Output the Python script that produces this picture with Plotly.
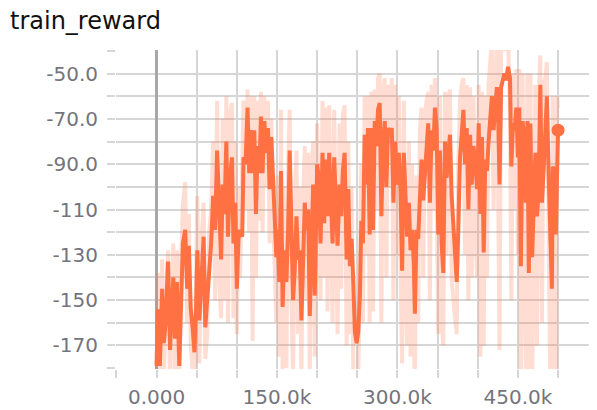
import plotly.graph_objects as go

# steps in thousands
steps_k = [0, 1.6, 4.1, 7, 9, 11.5, 14.3, 16.8, 18.9, 20.9, 23, 25.4, 28.3, 30.3, 32.8, 35.7, 38.1, 40.2, 42.6, 45.1,
           47.2, 49.2, 50.8, 53.3, 55.8, 58.6, 60.7, 63.1, 65.6, 68, 70.5, 73, 75.4, 77.9, 80.4, 82.4, 84.5, 86.9, 89, 91.4,
           93.9, 95.8, 97.9, 100, 102, 104, 106.7, 108.3, 110.8, 113.3, 115.4, 117.5, 119.6, 121.7, 123.8, 125.8, 127.9, 130, 132, 134.2,
           136.7, 138.8, 140.8, 142.9, 145, 147.5, 149.2, 150.8, 152.9, 155, 157, 159.2, 161.7, 163.8, 165.8, 168, 170, 172, 174.2, 176.3,
           178.3, 180.4, 182.5, 184.6, 186.7, 188.8, 190.8, 192.9, 195, 197, 200, 202, 204.2, 206.7, 208.8, 210.8, 212.9, 215, 217, 219.2,
           221.2, 223.3, 225.4, 227.9, 230, 232, 234.2, 236.7, 238.8, 240.8, 242.9, 245, 247, 249.2, 251.2, 253.3, 255, 257, 259.2, 261.2,
           263.3, 265.4, 267.5, 269.6, 271.7, 273.8, 275.8, 277.9, 280, 282, 284.2, 286.2, 288.3, 290.8, 292.9, 295, 297, 299.2, 301.7, 303.8,
           305.8, 307.9, 310, 312.1, 314.2, 316.3, 318.3, 320.4, 321.7, 323.8, 325.8, 327.9, 330, 332.1, 334.2, 336.2, 338.3, 340.4, 342.5, 344.6,
           346.7, 348.8, 350.8, 352.9, 355, 357.1, 359.2, 361.2, 363.3, 365.4, 367.5, 369.6, 371.7, 373.8, 375.8, 377.9, 380, 382.1, 384.2, 386.3,
           388.3, 390.4, 392.5, 394.6, 397.1, 399.2, 401.2, 403.3, 405.3, 407.4, 409.4, 411.5, 413.5, 415.6, 417.6, 419.7, 421.7, 423.8, 425.4, 427.1,
           429.1, 431.2, 433.2, 435.3, 437.7, 440.2, 441.8, 443.9, 445.9, 448, 450, 451.7, 453.7, 455.8, 457.8, 459.9, 461.9, 463.6, 465.6, 467.7,
           469.7, 471.8, 473.8, 475.9, 477.9, 480, 482, 484.1, 486.1, 488.2, 490.2, 492.3, 493.5, 495.6, 497.2, 498.8, 500]

smoothed = [-179, -154, -179, -145, -169, -159, -133, -172, -153, -140, -167, -142, -179, -148, -125, -119, -145, -126, -154, -163,
            -173, -153, -128, -159, -140, -122, -162, -151, -140, -125, -104, -119, -84, -116, -132, -99, -112, -80, -122, -96,
            -87, -125, -107, -145, -123, -119, -122, -87, -90, -65, -94, -75, -94, -75, -112, -82, -94, -69, -94, -71,
            -85, -74, -101, -78, -93, -118, -131, -119, -142, -93, -153, -128, -142, -119, -84, -119, -150, -137, -113, -132,
            -128, -159, -131, -107, -119, -110, -157, -119, -99, -148, -90, -96, -125, -85, -116, -88, -113, -85, -100, -125,
            -87, -107, -126, -99, -113, -93, -85, -132, -101, -135, -123, -142, -164, -169, -164, -147, -115, -125, -77, -99,
            -74, -121, -74, -119, -71, -82, -66, -63, -113, -82, -71, -100, -74, -77, -74, -107, -80, -99, -85, -101,
            -137, -85, -101, -122, -107, -128, -119, -134, -156, -119, -123, -104, -88, -106, -94, -85, -72, -107, -75, -84,
            -65, -74, -121, -84, -125, -138, -80, -96, -85, -77, -104, -116, -125, -142, -119, -87, -77, -66, -90, -74,
            -110, -77, -99, -82, -90, -101, -72, -112, -78, -129, -88, -93, -80, -69, -60, -75, -63, -56, -68, -99,
            -56, -53, -50, -53, -47, -52, -91, -72, -75, -65, -87, -65, -135, -71, -78, -107, -71, -138, -72, -131,
            -99, -85, -113, -101, -55, -107, -93, -78, -60, -93, -126, -145, -91, -94, -121, -93, -75]

raw = [-190, -138, -195, -132, -188, -150, -128, -190, -140, -125, -185, -128, -195, -135, -108, -98, -160, -112, -170, -185,
       -192, -140, -104, -178, -125, -107, -176, -165, -120, -110, -80, -150, -62, -140, -158, -70, -150, -60, -160, -68,
       -63, -158, -80, -165, -100, -140, -95, -62, -110, -57, -120, -60, -168, -60, -140, -62, -115, -58, -120, -60,
       -100, -62, -125, -70, -110, -140, -160, -95, -175, -66, -185, -100, -180, -90, -66, -150, -185, -110, -84, -165,
       -100, -185, -105, -82, -150, -85, -185, -95, -80, -175, -72, -112, -150, -62, -140, -65, -155, -64, -120, -160,
       -66, -130, -165, -72, -145, -68, -64, -170, -80, -165, -100, -180, -190, -192, -185, -120, -90, -160, -60, -130,
       -60, -160, -58, -155, -57, -110, -52, -50, -160, -60, -52, -140, -55, -100, -52, -150, -55, -130, -60, -135,
       -178, -62, -140, -170, -80, -175, -90, -172, -185, -95, -160, -75, -65, -140, -70, -62, -58, -150, -55, -110,
       -52, -100, -165, -60, -160, -170, -58, -130, -62, -57, -140, -150, -160, -165, -90, -62, -55, -52, -130, -55,
       -150, -56, -140, -60, -120, -140, -55, -175, -58, -170, -60, -140, -55, -45, -35, -110, -35, -30, -100, -172,
       -35, -30, -40, -35, -32, -70, -150, -50, -110, -48, -130, -48, -190, -50, -110, -185, -50, -190, -50, -185,
       -140, -55, -170, -60, -42, -160, -55, -52, -45, -140, -185, -190, -60, -130, -185, -60, -65]

x_tickvals = [0, 150000, 300000, 450000]
x_ticktext = ["0.000", "150.0k", "300.0k", "450.0k"]
x_minor = [-50000, 0, 50000, 100000, 150000, 200000, 250000, 300000, 350000, 400000, 450000, 500000]
y_tickvals = [-50, -70, -90, -110, -130, -150, -170]
y_ticktext = ["-50.0", "-70.0", "-90.0", "-110", "-130", "-150", "-170"]
y_minor = [-180, -170, -160, -150, -140, -130, -120, -110, -100, -90, -80, -70, -60, -50, -40]

steps = [s * 1000 for s in steps_k]

ORANGE = "#ff7043"
GRID = "#d6d6d6"
TICKC = "#74747c"

# the page body has an 8px default margin, so the figure is sized/offset to compensate
W, H = 589, 402

fig = go.Figure()
fig.add_trace(go.Scatter(x=steps, y=raw, mode="lines",
                         line=dict(color="rgba(255,112,67,0.24)", width=4), hoverinfo="skip"))
fig.add_trace(go.Scatter(x=steps, y=smoothed, mode="lines",
                         line=dict(color=ORANGE, width=4)))
fig.add_trace(go.Scatter(x=[steps[-1]], y=[smoothed[-1]], mode="markers",
                         marker=dict(color=ORANGE, size=13)))

fig.update_layout(
    width=W, height=H,
    margin=dict(l=108, r=0, t=42, b=41),
    paper_bgcolor="white", plot_bgcolor="white",
    showlegend=False,
    font=dict(family="DejaVu Sans", color=TICKC, size=20),
    title=dict(text="train_reward", x=2 / W, xanchor="left", xref="container",
               y=1 - 13 / H, yref="container", yanchor="middle",
               font=dict(family="DejaVu Sans", size=24, color="#111111")),
)
fig.update_xaxes(
    range=[-50500, 548500], automargin=False,
    tickmode="array", tickvals=x_tickvals, ticktext=x_ticktext,
    ticks="outside", ticklen=8, tickcolor=GRID, tickwidth=1.5,
    showgrid=True, gridcolor=GRID, gridwidth=1.5,
    minor=dict(tickmode="array", tickvals=x_minor, ticks="outside", ticklen=8,
               tickcolor=GRID, showgrid=True, gridcolor=GRID, gridwidth=1.5),
    zeroline=True, zerolinecolor="#a8a8a8", zerolinewidth=2.5,
    showline=False,
    ticklabelstandoff=2,
    tickfont=dict(size=20, color=TICKC),
)
fig.update_yaxes(
    range=[-180.4, -39.6], automargin=False,
    tickmode="array", tickvals=y_tickvals, ticktext=y_ticktext,
    ticks="outside", ticklen=8, tickcolor=GRID, tickwidth=1.5,
    showgrid=True, gridcolor=GRID, gridwidth=1.5,
    minor=dict(tickmode="array", tickvals=y_minor, ticks="outside", ticklen=8,
               tickcolor=GRID, showgrid=True, gridcolor=GRID, gridwidth=1.5),
    zeroline=False, showline=False,
    ticklabelstandoff=5,
    tickfont=dict(size=20, color=TICKC),
)

fig.write_html("out.html")
